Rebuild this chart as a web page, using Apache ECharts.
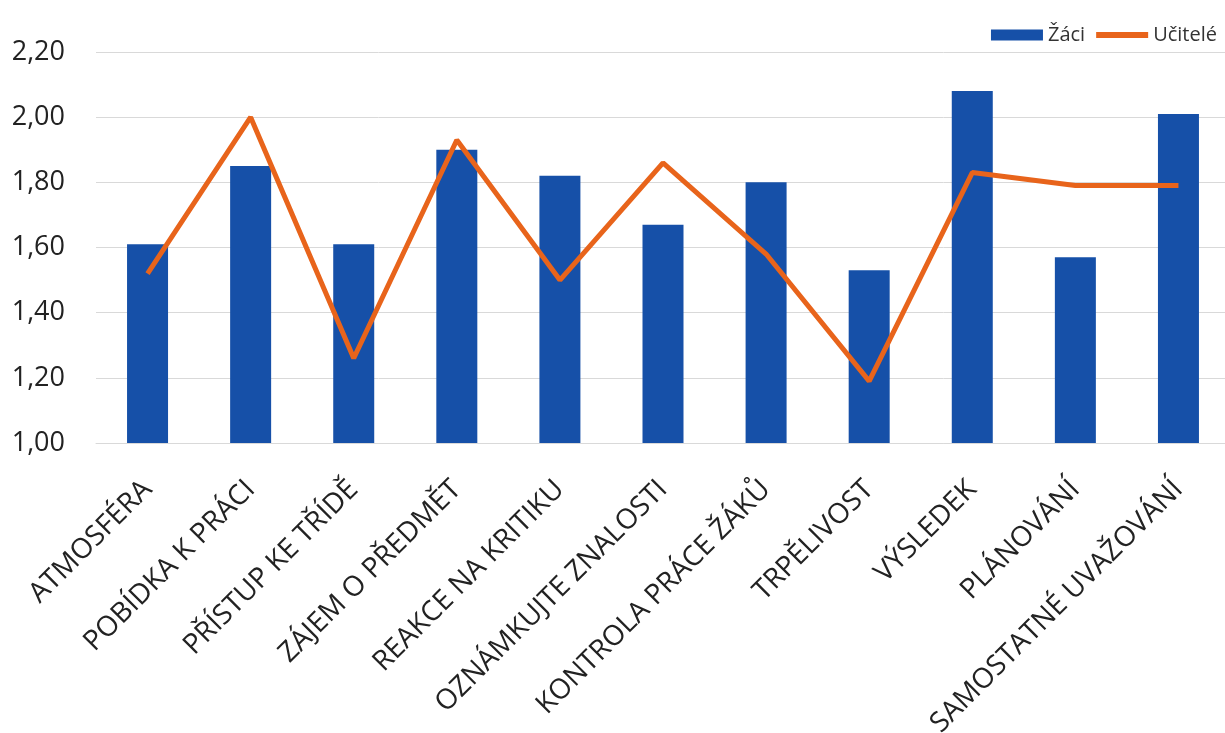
<!DOCTYPE html>
<html>
<head>
<meta charset="utf-8">
<script src="https://cdn.jsdelivr.net/npm/echarts@6/dist/echarts.min.js"></script>
<style>html,body{margin:0;padding:0;background:#fff;}#c{width:1225px;height:733px;}</style>
</head>
<body>
<div id="c"></div>
<script>
var categories = ['ATMOSFÉRA','POBÍDKA K PRÁCI','PŘÍSTUP KE TŘÍDĚ','ZÁJEM O PŘEDMĚT','REAKCE NA KRITIKU','OZNÁMKUJTE ZNALOSTI','KONTROLA PRÁCE ŽÁKŮ','TRPĚLIVOST','VÝSLEDEK','PLÁNOVÁNÍ','SAMOSTATNÉ UVAŽOVÁNÍ'];
var zaci = [1.61, 1.85, 1.61, 1.90, 1.82, 1.67, 1.80, 1.53, 2.08, 1.57, 2.01];
var ucitele = [1.52, 2.00, 1.26, 1.93, 1.50, 1.86, 1.58, 1.19, 1.83, 1.79, 1.79];
var yMin = 1.0, yMax = 2.2, yStep = 0.2;

var chart = echarts.init(document.getElementById('c'));
chart.setOption({
  animation: false,
  textStyle: {fontFamily: 'Open Sans'},
  legend: {
    right: 3, top: 20,
    itemGap: 8,
    itemWidth: 52, itemHeight: 11,
    textStyle: {fontSize: 20, color: '#333', fontFamily: 'Open Sans'},
    data: [
      {name: 'Žáci', icon: 'rect'},
      {name: 'Učitelé', itemStyle: {opacity: 0}, lineStyle: {width: 6, color: '#E8641B'}}
    ]
  },
  grid: {left: 96, width: 1134, top: 52, bottom: 290, containLabel: false, outerBoundsMode: 'none'},
  xAxis: {
    type: 'category',
    data: categories,
    axisTick: {show: false},
    axisLine: {lineStyle: {color: '#d9d9d9', width: 1}},
    axisLabel: {rotate: 45, margin: 42, fontSize: 28, color: '#222', fontFamily: 'Open Sans', interval: 0}
  },
  yAxis: {
    type: 'value',
    min: yMin, max: yMax, interval: yStep,
    axisLine: {show: false},
    axisTick: {show: false},
    splitLine: {lineStyle: {color: '#d9d9d9', width: 1}},
    axisLabel: {
      fontSize: 27, color: '#222', margin: 31, fontFamily: 'Open Sans',
      formatter: function (v) { return v.toFixed(2).replace('.', ','); }
    }
  },
  series: [
    {
      name: 'Žáci', type: 'bar', data: zaci, barWidth: 41,
      itemStyle: {color: '#1650A8'}
    },
    {
      name: 'Učitelé', type: 'line', data: ucitele,
      symbol: 'none', lineStyle: {color: '#E8641B', width: 5},
      itemStyle: {color: '#E8641B'}
    }
  ]
});
</script>
</body>
</html>
